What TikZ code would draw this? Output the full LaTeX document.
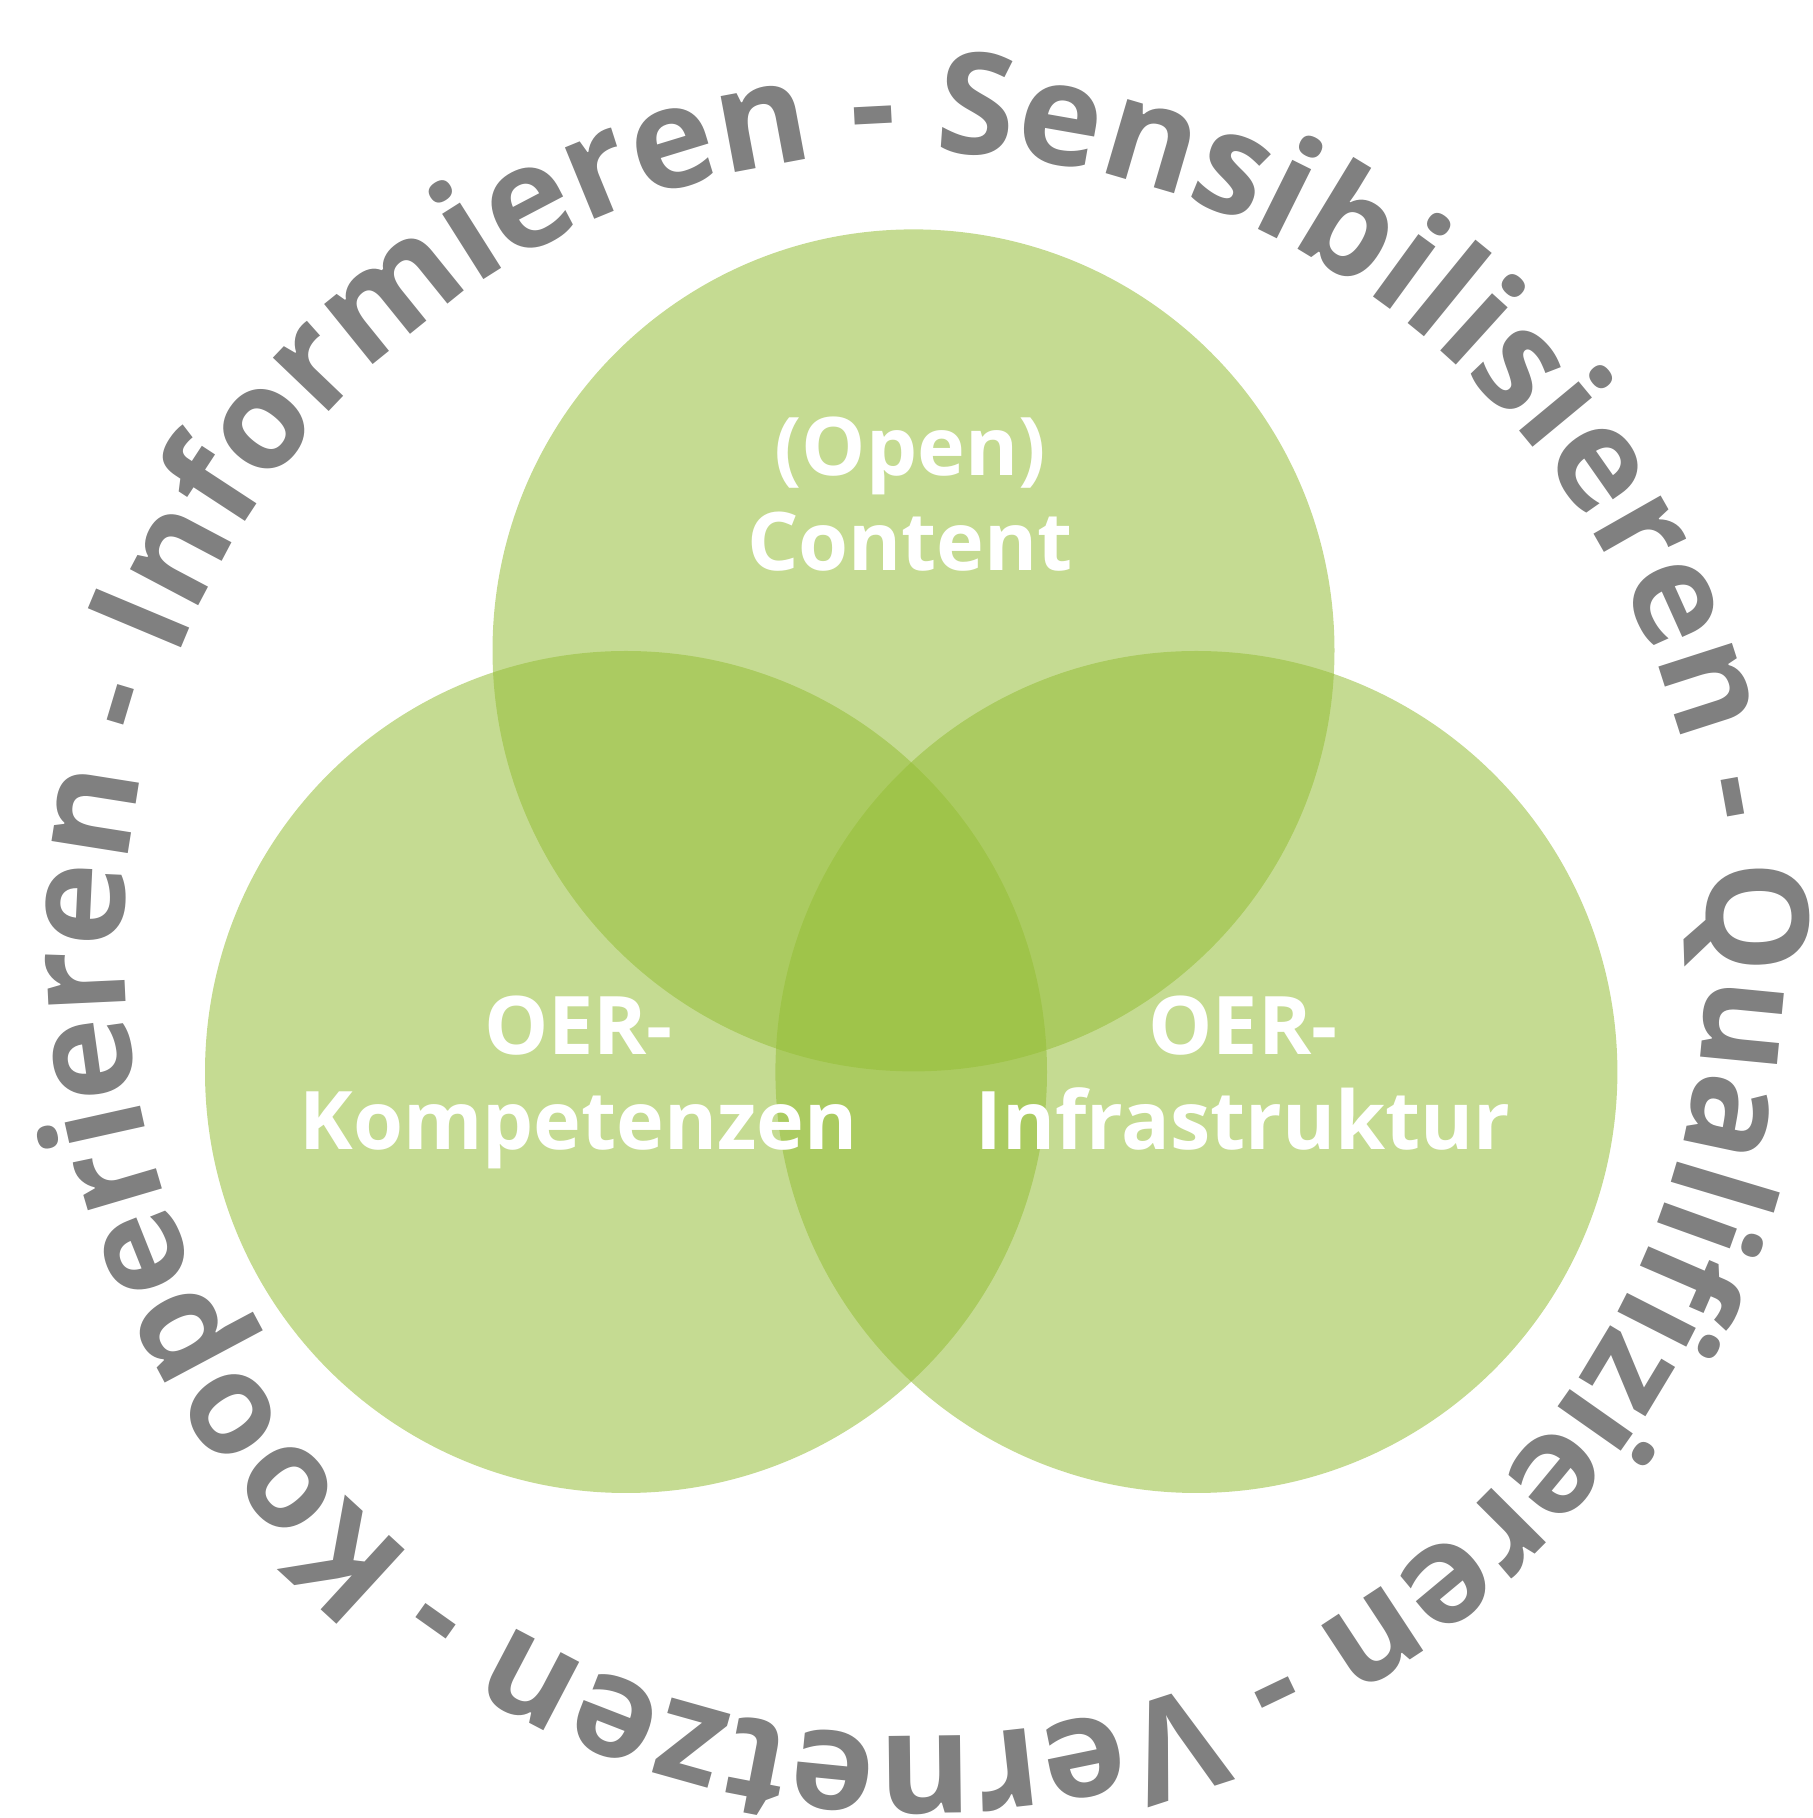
\documentclass[tikz,border=0pt]{standalone}
\usepackage{fontspec}
\setmainfont{Open Sans}
\usepackage{tikz}
\usetikzlibrary{calc,decorations.text}

\definecolor{oergreen}{RGB}{150,190,56}
\definecolor{oergrey}{RGB}{128,128,128}

\tikzset{
  circlelabel/.style={text=white, align=center,
    font=\bfseries\fontsize{23}{27}\selectfont}
}

\begin{document}
\begin{tikzpicture}[x=1cm,y=1cm]
  \useasboundingbox (0,0) rectangle (18.12,18.18);

  %% The three overlapping circles
  \foreach \n/\x/\y in {TOP/9.135/11.676,LEFT/6.26/7.46,RIGHT/11.964/7.46}
  {
    \coordinate (\n) at (\x,\y);
    \fill[oergreen, fill opacity=0.55] (\n) circle (4.21);
  }

  %% Labels inside the circles
  \node[circlelabel] (CONTENT) at (9.10,13.24) {(Open)\\Content};
  \node[circlelabel] (KOMP)    at (5.785,7.36) {OER-\\Kompetenzen};
  \node[circlelabel] (INFRA)   at (12.43,7.445) {OER-\\Infrastruktur};

  %% Text running round the whole thing
  \coordinate (MID) at (9.16,8.74);
  \path[decorate, decoration={text along path, text align=left,
      text color=oergrey,
      text={|\bfseries\fontsize{40.25}{48}\selectfont|Kooperieren - Informieren - Sensibilisieren - Qualifizieren - Vernetzen -}}]
    ($(MID)+(230.8:7.92)$) arc[start angle=230.8, end angle=-129.2, radius=7.92];
\end{tikzpicture}
\end{document}
